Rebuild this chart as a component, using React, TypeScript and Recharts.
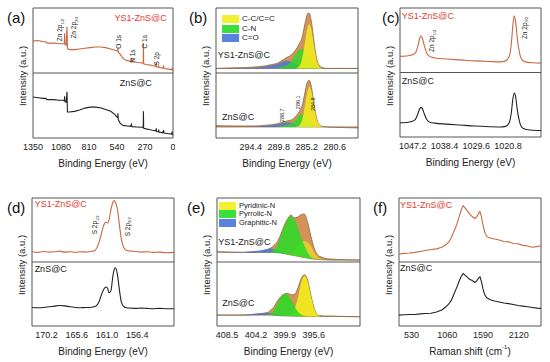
import React from 'react';
import {
  ComposedChart,
  Line,
  Area,
  XAxis,
  YAxis,
  ReferenceArea,
  ReferenceLine,
  ReferenceDot,
} from 'recharts';

const FONT = '"Liberation Sans", Arial, sans-serif';
const RED = '#e8392e';
const ORANGE = '#c8683f';
const INK = '#222';
const FRAME = '#555';
const ENV_FILL = '#d4925a';
const ENV_LINE = '#8b6a40';
const YELLOW = '#f2ee1c';
const GREEN = '#26dc26';
const BLUE = '#4674d8';

// (a) XPS survey
const surveyX = [1350, 1300, 1250, 1225, 1215, 1150, 1100, 1060, 1048, 1045, 1042, 1030, 1022, 1018, 1000, 950, 900, 850, 800, 750, 700, 650, 600, 560, 540, 533, 531, 528, 510, 490, 470, 440, 410, 400, 397, 350, 300, 287, 285, 283, 260, 230, 200, 165, 162, 159, 140, 138, 135, 100, 90, 87, 40, 12, 10, 7, 0];
const surveyYs1 = [0.49, 0.5, 0.48, 0.48, 0.46, 0.46, 0.45, 0.45, 0.45, 0.61, 0.44, 0.43, 0.71, 0.375, 0.36, 0.36, 0.37, 0.38, 0.39, 0.4, 0.4, 0.39, 0.37, 0.35, 0.34, 0.34, 0.39, 0.32, 0.29, 0.245, 0.21, 0.19, 0.18, 0.21, 0.18, 0.165, 0.155, 0.15, 0.46, 0.14, 0.13, 0.125, 0.115, 0.1, 0.16, 0.095, 0.09, 0.115, 0.085, 0.075, 0.105, 0.07, 0.06, 0.05, 0.085, 0.045, 0.04];
const surveyZns = [0.63, 0.62, 0.61, 0.61, 0.59, 0.59, 0.58, 0.58, 0.57, 0.64, 0.56, 0.55, 0.71, 0.4, 0.4, 0.41, 0.43, 0.46, 0.475, 0.475, 0.465, 0.44, 0.41, 0.36, 0.32, 0.31, 0.38, 0.28, 0.23, 0.2, 0.19, 0.185, 0.18, 0.21, 0.175, 0.17, 0.165, 0.16, 0.41, 0.15, 0.14, 0.13, 0.12, 0.11, 0.15, 0.1, 0.095, 0.13, 0.09, 0.08, 0.12, 0.075, 0.065, 0.06, 0.1, 0.055, 0.045];
const surveyTicks = [1350, 1080, 810, 540, 270, 0];

// (b) C 1s with fitted components (heights above the background)
const c1sX = [300.1, 297, 294, 292, 291, 290, 289.5, 289, 288.5, 288, 287.5, 287, 286.5, 286, 285.5, 285.2, 285, 284.8, 284.5, 284.2, 284, 283.5, 283, 282.5, 282, 281, 279, 276.8];
const c1sBaseTop = 0.07;
const c1sBaseBot = 0.17;
const c1sEnvTop = [0, 0.01, 0.02, 0.04, 0.06, 0.08, 0.11, 0.14, 0.17, 0.19, 0.23, 0.29, 0.37, 0.47, 0.69, 0.81, 0.85, 0.85, 0.75, 0.55, 0.4, 0.12, 0.03, 0.01, 0, 0, 0, 0];
const c1sBlueTop = [0, 0.005, 0.01, 0.03, 0.05, 0.07, 0.09, 0.11, 0.12, 0.11, 0.09, 0.07, 0.05, 0.03, 0.02, 0.01, 0.01, 0, 0, 0, 0, 0, 0, 0, 0, 0, 0, 0];
const c1sGreenTop = [0, 0, 0, 0, 0, 0.01, 0.02, 0.03, 0.05, 0.08, 0.14, 0.22, 0.28, 0.3, 0.27, 0.23, 0.2, 0.17, 0.12, 0.08, 0.05, 0.02, 0.01, 0, 0, 0, 0, 0];
const c1sYellowTop = [0, 0, 0, 0, 0, 0, 0, 0, 0, 0, 0, 0.005, 0.03, 0.14, 0.4, 0.57, 0.65, 0.68, 0.62, 0.46, 0.34, 0.1, 0.02, 0, 0, 0, 0, 0];
const c1sEnvBot = [0.02, 0.015, 0.015, 0.025, 0.035, 0.05, 0.065, 0.08, 0.09, 0.1, 0.12, 0.165, 0.225, 0.32, 0.53, 0.665, 0.71, 0.72, 0.64, 0.47, 0.34, 0.1, 0.02, 0.005, 0, -0.005, -0.01, -0.015];
const c1sBlueBot = [0, 0, 0.005, 0.015, 0.025, 0.04, 0.05, 0.06, 0.07, 0.07, 0.06, 0.05, 0.035, 0.02, 0.01, 0.005, 0, 0, 0, 0, 0, 0, 0, 0, 0, 0, 0, 0];
const c1sGreenBot = [0, 0, 0, 0, 0, 0.005, 0.01, 0.02, 0.03, 0.04, 0.07, 0.11, 0.17, 0.2, 0.19, 0.16, 0.13, 0.1, 0.07, 0.04, 0.02, 0.01, 0, 0, 0, 0, 0, 0];
const c1sYellowBot = [0, 0, 0, 0, 0, 0, 0, 0, 0, 0, 0, 0.005, 0.02, 0.1, 0.33, 0.5, 0.58, 0.62, 0.57, 0.43, 0.32, 0.09, 0.02, 0, 0, 0, 0, 0];
const c1sTicks = [294.4, 289.8, 285.2, 280.6];

// (c) Zn 2p
const zn2pX = [1050.7, 1049, 1047.5, 1046.5, 1045.8, 1045.3, 1044.9, 1044.5, 1044, 1043.3, 1042.5, 1041, 1038, 1034, 1030, 1026, 1023, 1021.5, 1020.5, 1019.9, 1019.5, 1019.1, 1018.7, 1018.3, 1017.7, 1017, 1016, 1014, 1011.7];
const zn2pYs1 = [0.25, 0.255, 0.27, 0.3, 0.4, 0.52, 0.57, 0.53, 0.42, 0.3, 0.25, 0.225, 0.21, 0.195, 0.18, 0.17, 0.165, 0.18, 0.25, 0.45, 0.72, 0.88, 0.78, 0.55, 0.32, 0.2, 0.165, 0.15, 0.145];
const zn2pZns = [0.22, 0.225, 0.24, 0.27, 0.35, 0.43, 0.46, 0.44, 0.36, 0.27, 0.23, 0.215, 0.2, 0.185, 0.17, 0.16, 0.155, 0.165, 0.22, 0.38, 0.58, 0.68, 0.62, 0.44, 0.25, 0.15, 0.12, 0.105, 0.1];
const zn2pTicks = [1047.2, 1038.4, 1029.6, 1020.8];

// (d) S 2p
const s2pX = [172.4, 171.5, 170.6, 169.8, 169, 168.2, 167.4, 166.6, 165.8, 165, 164.2, 163.6, 163, 162.6, 162.2, 161.9, 161.6, 161.3, 161.1, 160.9, 160.7, 160.4, 160.1, 159.9, 159.7, 159.4, 159.1, 158.8, 158.4, 158, 157.4, 156.6, 155.8, 155, 154, 153, 152, 150.8];
const s2pYs1 = [0.16, 0.15, 0.165, 0.155, 0.16, 0.17, 0.155, 0.16, 0.15, 0.16, 0.155, 0.165, 0.17, 0.21, 0.31, 0.42, 0.54, 0.61, 0.62, 0.61, 0.65, 0.82, 0.93, 0.96, 0.93, 0.82, 0.58, 0.35, 0.22, 0.18, 0.17, 0.165, 0.155, 0.16, 0.15, 0.155, 0.145, 0.15];
const s2pZns = [0.29, 0.285, 0.29, 0.3, 0.31, 0.32, 0.315, 0.3, 0.29, 0.285, 0.29, 0.29, 0.3, 0.32, 0.38, 0.47, 0.55, 0.6, 0.61, 0.59, 0.52, 0.55, 0.78, 0.88, 0.91, 0.8, 0.56, 0.37, 0.3, 0.285, 0.28, 0.275, 0.28, 0.275, 0.27, 0.275, 0.27, 0.27];
const s2pTicks = [170.2, 165.6, 161.0, 156.4];

// (e) N 1s with fitted components (absolute values inside each half)
const n1sX = [410, 408, 406, 404.5, 403.5, 402.5, 402, 401.5, 401, 400.5, 400, 399.5, 399, 398.5, 398, 397.5, 397, 396.5, 396, 395.5, 395, 394.5, 394, 393, 392, 390.5, 388.7];
const n1sBaseTop = [0.155, 0.15, 0.15, 0.15, 0.15, 0.15, 0.15, 0.15, 0.145, 0.14, 0.13, 0.12, 0.11, 0.1, 0.09, 0.08, 0.07, 0.06, 0.05, 0.045, 0.04, 0.035, 0.035, 0.03, 0.03, 0.03, 0.03];
const n1sEnvTop = [0.16, 0.155, 0.15, 0.155, 0.165, 0.19, 0.22, 0.26, 0.32, 0.43, 0.57, 0.67, 0.735, 0.69, 0.7, 0.74, 0.75, 0.62, 0.4, 0.21, 0.11, 0.08, 0.06, 0.045, 0.04, 0.035, 0.03];
const n1sBlueTop = [0.155, 0.15, 0.155, 0.17, 0.185, 0.205, 0.21, 0.2, 0.18, 0.16, 0.14, 0.125, 0.11, 0.1, 0.09, 0.08, 0.07, 0.06, 0.05, 0.045, 0.04, 0.035, 0.035, 0.03, 0.03, 0.03, 0.03];
const n1sGreenTop = [0.155, 0.15, 0.15, 0.15, 0.15, 0.15, 0.155, 0.19, 0.27, 0.4, 0.55, 0.66, 0.72, 0.67, 0.55, 0.4, 0.26, 0.15, 0.08, 0.05, 0.04, 0.035, 0.035, 0.03, 0.03, 0.03, 0.03];
const n1sYellowTop = [0.155, 0.15, 0.15, 0.15, 0.15, 0.15, 0.15, 0.15, 0.145, 0.14, 0.13, 0.125, 0.13, 0.17, 0.24, 0.3, 0.33, 0.31, 0.25, 0.15, 0.08, 0.05, 0.035, 0.03, 0.03, 0.03, 0.03];
const n1sBaseBot = [0.17, 0.17, 0.17, 0.17, 0.17, 0.17, 0.17, 0.168, 0.165, 0.16, 0.158, 0.156, 0.155, 0.153, 0.152, 0.151, 0.15, 0.15, 0.15, 0.15, 0.15, 0.15, 0.15, 0.15, 0.15, 0.147, 0.145];
const n1sEnvBot = [0.17, 0.17, 0.17, 0.18, 0.195, 0.21, 0.25, 0.3, 0.39, 0.46, 0.5, 0.51, 0.49, 0.49, 0.58, 0.73, 0.8, 0.72, 0.47, 0.27, 0.17, 0.16, 0.155, 0.155, 0.15, 0.148, 0.145];
const n1sBlueBot = [0.17, 0.17, 0.175, 0.19, 0.2, 0.205, 0.2, 0.19, 0.18, 0.17, 0.16, 0.156, 0.155, 0.153, 0.152, 0.151, 0.15, 0.15, 0.15, 0.15, 0.15, 0.15, 0.15, 0.15, 0.15, 0.147, 0.145];
const n1sGreenBot = [0.17, 0.17, 0.17, 0.17, 0.17, 0.175, 0.19, 0.25, 0.35, 0.45, 0.5, 0.49, 0.42, 0.32, 0.23, 0.18, 0.16, 0.15, 0.15, 0.15, 0.15, 0.15, 0.15, 0.15, 0.15, 0.147, 0.145];
const n1sYellowBot = [0.17, 0.17, 0.17, 0.17, 0.17, 0.17, 0.17, 0.168, 0.165, 0.16, 0.158, 0.16, 0.17, 0.25, 0.42, 0.66, 0.78, 0.7, 0.46, 0.26, 0.17, 0.15, 0.15, 0.15, 0.15, 0.147, 0.145];
const n1sTicks = [408.5, 404.2, 399.9, 395.6];

// (f) Raman
const ramanX = [345, 420, 500, 580, 660, 740, 820, 900, 980, 1040, 1080, 1120, 1160, 1200, 1240, 1270, 1297, 1320, 1350, 1390, 1430, 1470, 1500, 1525, 1545, 1565, 1590, 1615, 1645, 1700, 1760, 1830, 1900, 1970, 2040, 2110, 2180, 2250, 2320, 2390, 2450];
const ramanYs1 = [0.12, 0.135, 0.14, 0.15, 0.165, 0.18, 0.195, 0.205, 0.23, 0.27, 0.31, 0.38, 0.48, 0.58, 0.72, 0.82, 0.88, 0.85, 0.81, 0.75, 0.71, 0.68, 0.71, 0.76, 0.79, 0.72, 0.58, 0.47, 0.4, 0.375, 0.36, 0.345, 0.32, 0.315, 0.29, 0.285, 0.26, 0.25, 0.23, 0.24, 0.255];
const ramanZns = [0.17, 0.175, 0.18, 0.18, 0.19, 0.195, 0.2, 0.22, 0.25, 0.3, 0.34, 0.4, 0.5, 0.6, 0.71, 0.78, 0.82, 0.8, 0.77, 0.73, 0.71, 0.68, 0.71, 0.75, 0.77, 0.7, 0.58, 0.49, 0.44, 0.41, 0.39, 0.375, 0.36, 0.35, 0.335, 0.32, 0.31, 0.3, 0.29, 0.28, 0.275];
const ramanTicks = [530, 1060, 1590, 2120];

const c1sLegend = ['C-C/C=C', 'C-N', 'C=O'];
const n1sLegend = ['Pyridinic-N', 'Pyrrolic-N', 'Graphitic-N'];
const legendColors = [YELLOW, GREEN, BLUE];

// top spectrum lives in [1, 2], bottom one in [0, 1]
const pairRows = (xs: number[], top: number[], bot: number[]) =>
  xs.map((x, i) => ({ x, top: top[i] + 1, bot: bot[i] }));

const c1sRows = c1sX.map((x, i) => ({
  x,
  envT: [1 + c1sBaseTop, 1 + c1sBaseTop + c1sEnvTop[i]],
  blueT: [1 + c1sBaseTop, 1 + c1sBaseTop + c1sBlueTop[i]],
  greenT: [1 + c1sBaseTop, 1 + c1sBaseTop + c1sGreenTop[i]],
  yellowT: [1 + c1sBaseTop, 1 + c1sBaseTop + c1sYellowTop[i]],
  envB: [c1sBaseBot, c1sBaseBot + c1sEnvBot[i]],
  blueB: [c1sBaseBot, c1sBaseBot + c1sBlueBot[i]],
  greenB: [c1sBaseBot, c1sBaseBot + c1sGreenBot[i]],
  yellowB: [c1sBaseBot, c1sBaseBot + c1sYellowBot[i]],
}));

const n1sRows = n1sX.map((x, i) => ({
  x,
  envT: [1 + n1sBaseTop[i], 1 + n1sEnvTop[i]],
  blueT: [1 + n1sBaseTop[i], 1 + n1sBlueTop[i]],
  greenT: [1 + n1sBaseTop[i], 1 + n1sGreenTop[i]],
  yellowT: [1 + n1sBaseTop[i], 1 + n1sYellowTop[i]],
  envB: [n1sBaseBot[i], n1sEnvBot[i]],
  blueB: [n1sBaseBot[i], n1sBlueBot[i]],
  greenB: [n1sBaseBot[i], n1sGreenBot[i]],
  yellowB: [n1sBaseBot[i], n1sYellowBot[i]],
}));

// small text placed at a data point (rotated peak names, sample names)
// note: "rot" not "angle", Label would overwrite angle with its own default
const Note = (props: any) => {
  const { viewBox, text, sub, color = INK, size = 6.5, rot = 0, anchor = 'middle' } = props;
  const x = viewBox.x + (viewBox.width || 0) / 2;
  const y = viewBox.y + (viewBox.height || 0) / 2;
  return (
    <text
      x={x}
      y={y}
      fill={color}
      fontSize={size}
      fontFamily={FONT}
      textAnchor={anchor}
      dominantBaseline="central"
      transform={rot ? `rotate(${rot} ${x} ${y})` : undefined}
    >
      {text}
      {sub && (
        <tspan fontSize={size * 0.62} dy={size * 0.3}>
          {sub}
        </tspan>
      )}
    </text>
  );
};

const note = (x: number, y: number, label: React.ReactElement) => (
  <ReferenceDot key={`${x}-${y}`} x={x} y={y} r={0} fill="none" stroke="none" label={label} ifOverflow="visible" />
);

const XTitle = (props: any) => {
  const { viewBox, text } = props;
  return (
    <text x={viewBox.x + viewBox.width / 2} y={viewBox.y + 25} fontSize={10} fontFamily={FONT} fill={INK} textAnchor="middle" dominantBaseline="central">
      {text}
    </text>
  );
};

interface PanelProps {
  box: { x: number; y: number; w: number; h: number };
  domain: [number, number];
  reversed?: boolean;
  ticks: number[];
  tickFmt?: (v: number) => string;
  xTitle: React.ReactNode;
  rows: any[];
  children: React.ReactNode;
}

function Panel({ box, domain, reversed = true, ticks, tickFmt, xTitle, rows, children }: PanelProps) {
  const yW = 20;
  const mt = 2;
  const mr = 2;
  const xH = 34;
  return (
    <>
      <div style={{ position: 'absolute', left: box.x - yW, top: box.y - mt }}>
        <ComposedChart width={yW + box.w + mr} height={mt + box.h + xH} data={rows} margin={{ top: mt, right: mr, bottom: 0, left: 0 }}>
          <XAxis
            dataKey="x"
            type="number"
            domain={domain}
            reversed={reversed}
            ticks={ticks}
            interval={0}
            allowDataOverflow
            height={xH}
            axisLine={false}
            tickLine={false}
            tickSize={4}
            tickMargin={2}
            tickFormatter={tickFmt}
            tick={{ fontSize: 9, fill: INK, fontFamily: FONT }}
            label={<XTitle text={xTitle} />}
          />
          <YAxis type="number" domain={[0, 2]} width={yW} tick={false} axisLine={false} tickLine={false} allowDataOverflow />
          {children}
          <ReferenceLine y={1} stroke={FRAME} strokeWidth={1} />
          <ReferenceArea x1={domain[0]} x2={domain[1]} y1={0} y2={2} fill="none" stroke={FRAME} strokeWidth={1} />
        </ComposedChart>
      </div>
      <div
        style={{
          position: 'absolute',
          left: box.x - 10,
          top: box.y + box.h / 2 + 3,
          transform: 'translate(-50%, -50%) rotate(-90deg)',
          fontSize: 9.5,
          fontFamily: FONT,
          color: INK,
          whiteSpace: 'nowrap',
          lineHeight: '10px',
        }}
      >
        Intensity (a.u.)
      </div>
    </>
  );
}

const Legend = ({ left, top, step, labels, size }: { left: number; top: number; step: number; labels: string[]; size: number }) => (
  <div style={{ position: 'absolute', left, top }}>
    {labels.map((l, i) => (
      <div key={l} style={{ position: 'absolute', top: i * step, left: 0, display: 'flex', alignItems: 'center', whiteSpace: 'nowrap' }}>
        <div style={{ width: 17, height: 8, background: legendColors[i], opacity: 0.9 }} />
        <span style={{ marginLeft: 3, fontSize: size, fontFamily: FONT, color: INK, lineHeight: '8px' }}>{l}</span>
      </div>
    ))}
  </div>
);

const panelLetters: [string, number, number][] = [
  ['(a)', 7, 10],
  ['(b)', 189, 10],
  ['(c)', 382, 10],
  ['(d)', 7, 200],
  ['(e)', 187, 200],
  ['(f)', 373, 200],
];

const be = 'Binding Energy (eV)';
const oneDecimal = (v: number) => v.toFixed(1);
const SW = 1.1;
const FO = 0.8;

export default function App() {
  return (
    <div style={{ position: 'absolute', left: 0, top: 0, width: 550, height: 362, background: '#fff', overflow: 'hidden', fontFamily: FONT }}>
      {/* (a) survey */}
      <Panel box={{ x: 33, y: 8, w: 140, h: 130 }} domain={[0, 1350]} ticks={surveyTicks} xTitle={be} rows={pairRows(surveyX, surveyYs1, surveyZns)}>
        <Line dataKey="top" stroke={ORANGE} strokeWidth={SW} dot={false} type="linear" isAnimationActive={false} />
        <Line dataKey="bot" stroke={INK} strokeWidth={SW} dot={false} type="linear" isAnimationActive={false} />
        {note(60, 1.84, <Note text="YS1-ZnS@C" color={RED} size={9} anchor="end" />)}
        {note(514, 0.85, <Note text="ZnS@C" size={9} anchor="start" />)}
        {note(1090, 1.66, <Note text="Zn 2p" sub="1/2" rot={-90} />)}
        {note(957, 1.7, <Note text="Zn 2p" sub="3/2" rot={-90} />)}
        {note(524, 1.48, <Note text="O 1s" rot={-90} />)}
        {note(386, 1.26, <Note text="N 1s" rot={-90} />)}
        {note(273, 1.48, <Note text="C 1s" rot={-90} />)}
        {note(160, 1.22, <Note text="S 2p" rot={-90} />)}
      </Panel>

      {/* (b) C 1s */}
      <Panel box={{ x: 216, y: 8, w: 142, h: 130 }} domain={[276.8, 300.1]} ticks={c1sTicks} tickFmt={oneDecimal} xTitle={be} rows={c1sRows}>
        <Area dataKey="envT" type="monotone" fill={ENV_FILL} fillOpacity={1} stroke={ENV_LINE} strokeWidth={0.8} isAnimationActive={false} />
        <Area dataKey="blueT" type="monotone" fill={BLUE} fillOpacity={FO} stroke="none" isAnimationActive={false} />
        <Area dataKey="greenT" type="monotone" fill={GREEN} fillOpacity={FO} stroke="none" isAnimationActive={false} />
        <Area dataKey="yellowT" type="monotone" fill={YELLOW} fillOpacity={0.85} stroke="none" isAnimationActive={false} />
        <Area dataKey="envB" type="monotone" fill={ENV_FILL} fillOpacity={1} stroke={ENV_LINE} strokeWidth={0.8} isAnimationActive={false} />
        <Area dataKey="blueB" type="monotone" fill={BLUE} fillOpacity={FO} stroke="none" isAnimationActive={false} />
        <Area dataKey="greenB" type="monotone" fill={GREEN} fillOpacity={FO} stroke="none" isAnimationActive={false} />
        <Area dataKey="yellowB" type="monotone" fill={YELLOW} fillOpacity={0.85} stroke="none" isAnimationActive={false} />
        {note(299.8, 1.28, <Note text="YS1-ZnS@C" size={9} anchor="start" />)}
        {note(299.1, 0.32, <Note text="ZnS@C" size={9} anchor="start" />)}
        {note(289.3, 0.35, <Note text="288.7" size={5.5} rot={-90} />)}
        {note(286.6, 0.55, <Note text="286.1" size={5.5} rot={-90} />)}
        {note(284.2, 0.52, <Note text="284.8" size={5.5} rot={-90} />)}
      </Panel>

      {/* (c) Zn 2p */}
      <Panel box={{ x: 400, y: 8, w: 141, h: 129 }} domain={[1011.7, 1050.7]} ticks={zn2pTicks} tickFmt={oneDecimal} xTitle={be} rows={pairRows(zn2pX, zn2pYs1, zn2pZns)}>
        <Line dataKey="top" stroke={ORANGE} strokeWidth={SW} dot={false} type="monotone" isAnimationActive={false} />
        <Line dataKey="bot" stroke={INK} strokeWidth={SW} dot={false} type="monotone" isAnimationActive={false} />
        {note(1050.2, 1.88, <Note text="YS1-ZnS@C" color={RED} size={9} anchor="start" />)}
        {note(1050.2, 0.87, <Note text="ZnS@C" size={9} anchor="start" />)}
        {note(1041.9, 1.49, <Note text="Zn 2p" sub="1/2" rot={-90} />)}
        {note(1016.3, 1.69, <Note text="Zn 2p" sub="3/2" rot={-90} />)}
      </Panel>

      {/* (d) S 2p */}
      <Panel box={{ x: 32, y: 198, w: 142, h: 128 }} domain={[150.8, 172.4]} ticks={s2pTicks} tickFmt={oneDecimal} xTitle={be} rows={pairRows(s2pX, s2pYs1, s2pZns)}>
        <Line dataKey="top" stroke={ORANGE} strokeWidth={SW} dot={false} type="monotone" isAnimationActive={false} />
        <Line dataKey="bot" stroke={INK} strokeWidth={SW} dot={false} type="monotone" isAnimationActive={false} />
        {note(172.0, 1.91, <Note text="YS1-ZnS@C" color={RED} size={9} anchor="start" />)}
        {note(172.0, 0.89, <Note text="ZnS@C" size={9} anchor="start" />)}
        {note(162.85, 1.58, <Note text="S 2p" sub="1/2" rot={-90} />)}
        {note(157.9, 1.55, <Note text="S 2p" sub="3/2" rot={-90} />)}
      </Panel>

      {/* (e) N 1s */}
      <Panel box={{ x: 217, y: 198, w: 143, h: 128 }} domain={[388.7, 410]} ticks={n1sTicks} tickFmt={oneDecimal} xTitle={be} rows={n1sRows}>
        <Area dataKey="envT" type="monotone" fill={ENV_FILL} fillOpacity={1} stroke={ENV_LINE} strokeWidth={0.8} isAnimationActive={false} />
        <Area dataKey="yellowT" type="monotone" fill={YELLOW} fillOpacity={0.6} stroke="none" isAnimationActive={false} />
        <Area dataKey="blueT" type="monotone" fill={BLUE} fillOpacity={FO} stroke="none" isAnimationActive={false} />
        <Area dataKey="greenT" type="monotone" fill={GREEN} fillOpacity={0.85} stroke="none" isAnimationActive={false} />
        <Area dataKey="envB" type="monotone" fill={ENV_FILL} fillOpacity={1} stroke={ENV_LINE} strokeWidth={0.8} isAnimationActive={false} />
        <Area dataKey="yellowB" type="monotone" fill={YELLOW} fillOpacity={0.9} stroke="none" isAnimationActive={false} />
        <Area dataKey="blueB" type="monotone" fill={BLUE} fillOpacity={FO} stroke="none" isAnimationActive={false} />
        <Area dataKey="greenB" type="monotone" fill={GREEN} fillOpacity={0.85} stroke="none" isAnimationActive={false} />
        {note(409.8, 1.32, <Note text="YS1-ZnS@C" size={9} anchor="start" />)}
        {note(409.2, 0.36, <Note text="ZnS@C" size={9} anchor="start" />)}
      </Panel>

      {/* (f) Raman */}
      <Panel
        box={{ x: 399, y: 198, w: 142, h: 128 }}
        domain={[345, 2450]}
        reversed={false}
        ticks={ramanTicks}
        xTitle={
          <>
            Raman shift (cm
            <tspan fontSize={6} dy={-4}>
              -1
            </tspan>
            <tspan dy={4}>)</tspan>
          </>
        }
        rows={pairRows(ramanX, ramanYs1, ramanZns)}
      >
        <Line dataKey="top" stroke={ORANGE} strokeWidth={SW} dot={false} type="linear" isAnimationActive={false} />
        <Line dataKey="bot" stroke={INK} strokeWidth={SW} dot={false} type="linear" isAnimationActive={false} />
        {note(360, 1.89, <Note text="YS1-ZnS@C" color={RED} size={9} anchor="start" />)}
        {note(360, 0.9, <Note text="ZnS@C" size={9} anchor="start" />)}
      </Panel>

      <Legend left={222} top={15} step={9.6} labels={c1sLegend} size={8} />
      <Legend left={219} top={201.5} step={8.8} labels={n1sLegend} size={7.5} />

      {panelLetters.map(([t, l, tp]) => (
        <div key={t} style={{ position: 'absolute', left: l, top: tp, fontSize: 15, lineHeight: '15px', fontFamily: FONT, color: '#111' }}>
          {t}
        </div>
      ))}
    </div>
  );
}
